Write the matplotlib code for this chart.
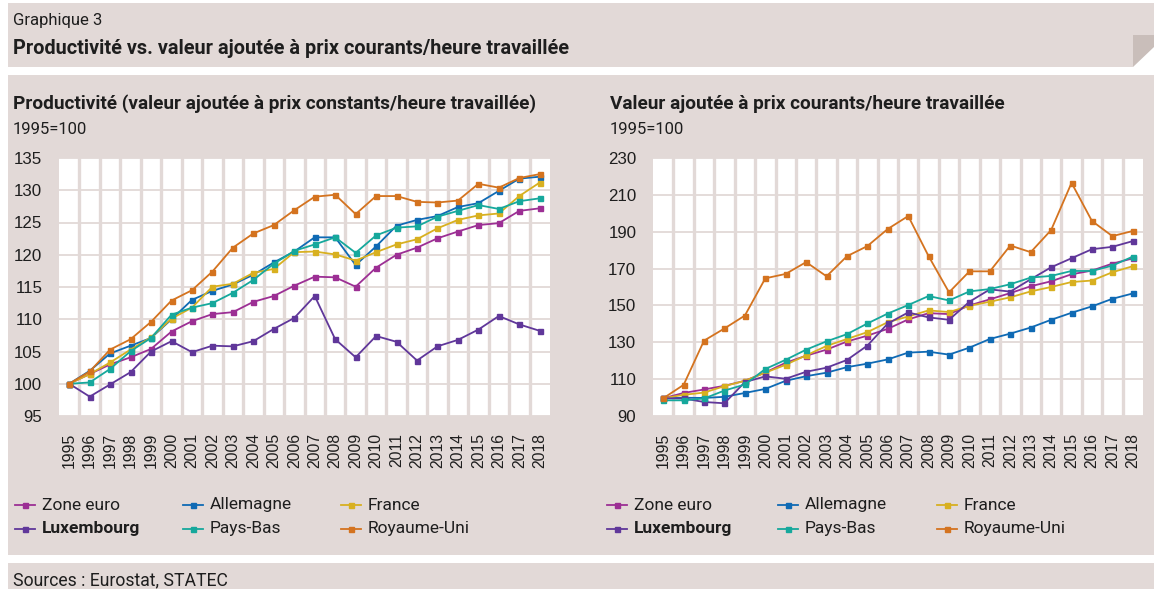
import matplotlib.pyplot as plt
from matplotlib.patches import Polygon, Rectangle
from matplotlib.lines import Line2D

W, H = 1154, 589

years = [str(y) for y in range(1995, 2019)]

series_names = ["Zone euro", "Allemagne", "France", "Luxembourg", "Pays-Bas", "Royaume-Uni"]
series_colors = ["#9c2f94", "#0f6ab4", "#d8b020", "#60379a", "#16a89c", "#d4731f"]

# Productivité (valeur ajoutée à prix constants/heure travaillée), 1995=100
prod_zone_euro = [100, 101.5, 103.0, 104.1, 105.4, 108.1, 109.7, 110.8, 111.1, 112.7, 113.6, 115.2,
                  116.6, 116.5, 115.05, 118.0, 120.0, 121.1, 122.55, 123.6, 124.6, 124.9, 126.8, 127.2]
prod_allemagne = [100, 102.0, 104.7, 105.9, 107.1, 110.0, 113.0, 114.4, 115.4, 116.9, 118.8, 120.5,
                  122.7, 122.7, 118.4, 121.3, 124.5, 125.4, 126.0, 127.4, 128.0, 129.9, 131.8, 132.1]
prod_france = [100, 101.5, 103.3, 105.3, 107.2, 110.1, 111.8, 115.05, 115.5, 117.2, 117.8, 120.4,
               120.5, 120.05, 119.1, 120.4, 121.6, 122.4, 124.1, 125.4, 126.1, 126.4, 129.1, 131.2]
prod_luxembourg = [100, 98.0, 99.9, 101.8, 105.0, 106.6, 104.9, 105.9, 105.8, 106.6, 108.5, 110.2,
                   113.6, 106.9, 104.1, 107.4, 106.5, 103.6, 105.8, 106.8, 108.4, 110.5, 109.2, 108.2]
prod_pays_bas = [100, 100.2, 102.3, 105.05, 107.1, 110.7, 111.8, 112.5, 114.1, 116.1, 118.6, 120.6,
                 121.6, 122.7, 120.3, 123.0, 124.2, 124.4, 125.9, 126.8, 127.7, 127.1, 128.3, 128.75]
prod_royaume_uni = [100, 101.9, 105.3, 106.9, 109.6, 112.9, 114.5, 117.4, 121.1, 123.3, 124.6, 126.9,
                    129.0, 129.3, 126.3, 129.1, 129.1, 128.2, 128.1, 128.4, 131.0, 130.4, 131.9, 132.5]

# Valeur ajoutée à prix courants/heure travaillée, 1995=100
va_zone_euro = [99.6, 102.5, 104.4, 106.4, 109.1, 113.6, 118.9, 122.7, 126.0, 130.4, 133.6, 137.3,
                142.4, 145.8, 145.3, 150.0, 153.3, 156.7, 160.4, 163.1, 166.9, 168.9, 172.7, 175.5]
va_allemagne = [99.6, 99.9, 99.8, 100.4, 102.5, 104.7, 109.1, 111.6, 113.5, 116.5, 118.4, 120.7,
                124.4, 124.9, 123.3, 127.1, 131.8, 134.7, 138.0, 142.2, 146.0, 149.5, 153.6, 156.5]
va_france = [99.6, 101.5, 102.7, 106.2, 109.1, 113.5, 117.8, 122.9, 128.0, 131.8, 135.5, 140.9,
             144.0, 147.3, 146.4, 149.8, 152.0, 154.4, 157.6, 160.0, 162.7, 163.5, 168.0, 171.3]
va_luxembourg = [99.6, 99.5, 97.6, 96.9, 108.4, 111.5, 110.2, 114.0, 116.2, 120.4, 128.2, 140.2,
                 146.2, 143.5, 142.2, 152.0, 158.7, 157.5, 164.2, 170.7, 175.6, 180.5, 181.8, 184.9]
va_pays_bas = [98.5, 98.5, 99.5, 103.8, 107.1, 115.5, 120.5, 126.0, 130.5, 134.4, 140.2, 145.6,
               150.2, 155.1, 152.7, 157.6, 158.9, 161.5, 165.1, 166.0, 168.7, 168.7, 171.6, 176.5]
va_royaume_uni = [99.6, 106.9, 130.9, 137.5, 144.5, 164.7, 167.1, 173.5, 165.8, 176.7, 182.2, 191.5,
                  198.5, 176.7, 157.1, 168.5, 168.5, 182.5, 178.9, 190.9, 216.5, 195.8, 187.6, 190.4]

prod = [prod_zone_euro, prod_allemagne, prod_france, prod_luxembourg, prod_pays_bas, prod_royaume_uni]
va = [va_zone_euro, va_allemagne, va_france, va_luxembourg, va_pays_bas, va_royaume_uni]

BG = "#e2d9d7"
FOLD = "#c9beba"
TXT = "#1e1e1e"
TICK_FONT = ["Liberation Sans", "DejaVu Sans"]
TEXT_FONT = ["Roboto", "DejaVu Sans"]


def fx(x):
    return x / W


def fy(y):
    return 1 - y / H


def box(fig, x0, y0, x1, y1, color=BG):
    fig.add_artist(Rectangle((fx(x0), fy(y1)), fx(x1 - x0), (y1 - y0) / H,
                             transform=fig.transFigure, facecolor=color, edgecolor="none", zorder=-10))


fig = plt.figure(figsize=(W / 100, H / 100), dpi=100)
fig.patch.set_facecolor("white")

# header with folded corner
fig.add_artist(Polygon([(fx(8), fy(3)), (fx(1154), fy(3)), (fx(1154), fy(35)), (fx(1133), fy(35)),
                        (fx(1133), fy(67)), (fx(8), fy(67))], closed=True, transform=fig.transFigure,
                       facecolor=BG, edgecolor="none", zorder=-10))
fig.add_artist(Polygon([(fx(1133), fy(35)), (fx(1154), fy(35)), (fx(1154), fy(47)), (fx(1133), fy(67))],
                       closed=True, transform=fig.transFigure, facecolor=FOLD, edgecolor="none", zorder=-9))
box(fig, 8, 75, 1154, 555)
box(fig, 8, 563, 1154, 589)

fig.text(fx(13), fy(21), "Graphique 3", family=TEXT_FONT, fontsize=12, color=TXT, va="center")
fig.text(fx(13), fy(48), "Productivité vs. valeur ajoutée à prix courants/heure travaillée",
         family=TEXT_FONT, fontsize=14.3, fontweight="bold", color=TXT, va="center")
fig.text(fx(13), fy(580), "Sources : Eurostat, STATEC", family=TEXT_FONT, fontsize=12.7, color=TXT, va="center")


def draw_panel(left, right, data, ylim, ystep, title, title_x, leg_x):
    top, bottom = 158, 416
    ax = fig.add_axes([fx(left), fy(bottom), (right - left) / W, (bottom - top) / H])
    ax.set_facecolor("white")
    for s in ax.spines.values():
        s.set_visible(False)
    x = list(range(len(years)))
    for vals, color in zip(data, series_colors):
        ax.plot(x, vals, color=color, lw=1.3, marker="s", ms=3.6, mfc=color, mec=color, zorder=3)
    ax.set_xlim(-0.5, len(years) - 0.5)
    ax.set_ylim(*ylim)
    ax.set_yticks(range(ylim[0], ylim[1] + 1, ystep))
    ax.set_xticks(x)
    ax.set_xticklabels(years, rotation=90)
    ax.tick_params(axis="y", length=0, pad=12, labelsize=12.2, labelcolor=TXT)
    ax.tick_params(axis="x", length=0, pad=12, labelsize=11.3, labelcolor=TXT)
    for lab in ax.get_xticklabels() + ax.get_yticklabels():
        lab.set_family(TICK_FONT)
    ax.grid(axis="y", color=BG, lw=1.3, zorder=0)
    for k in range(len(years) - 1):
        ax.axvline(k + 0.5, color=BG, lw=2.4, zorder=0.5)
    ax.set_axisbelow(True)

    fig.text(fx(title_x), fy(104), title, family=TEXT_FONT, fontsize=13.7, fontweight="bold",
             color=TXT, va="center")
    fig.text(fx(title_x), fy(129), "1995=100", family=TEXT_FONT, fontsize=12, color=TXT, va="center")

    # legend: 3 columns x 2 rows (column-wise order)
    order = [0, 3, 1, 4, 2, 5]
    for i, idx in enumerate(order):
        col, row = divmod(i, 2)
        x0 = leg_x[col]
        yy = fy(505 + 24 * row)
        color = series_colors[idx]
        fig.add_artist(Line2D([fx(x0), fx(x0 + 20)], [yy, yy], transform=fig.transFigure,
                              color=color, lw=1.3))
        fig.add_artist(Line2D([fx(x0 + 10)], [yy], transform=fig.transFigure, color=color,
                              marker="s", ms=3.6, lw=0))
        fig.text(fx(x0 + 27), yy, series_names[idx], family=TEXT_FONT, fontsize=12.5, color=TXT,
                 va="center", fontweight="bold" if idx == 3 else "normal")
    return ax


draw_panel(59, 550, prod, (95, 135), 5,
           "Productivité (valeur ajoutée à prix constants/heure travaillée)", 13, [15, 183, 341])
draw_panel(653, 1143, va, (90, 230), 20,
           "Valeur ajoutée à prix courants/heure travaillée", 610, [607, 778, 937])

fig.savefig("out.png", dpi=100)
